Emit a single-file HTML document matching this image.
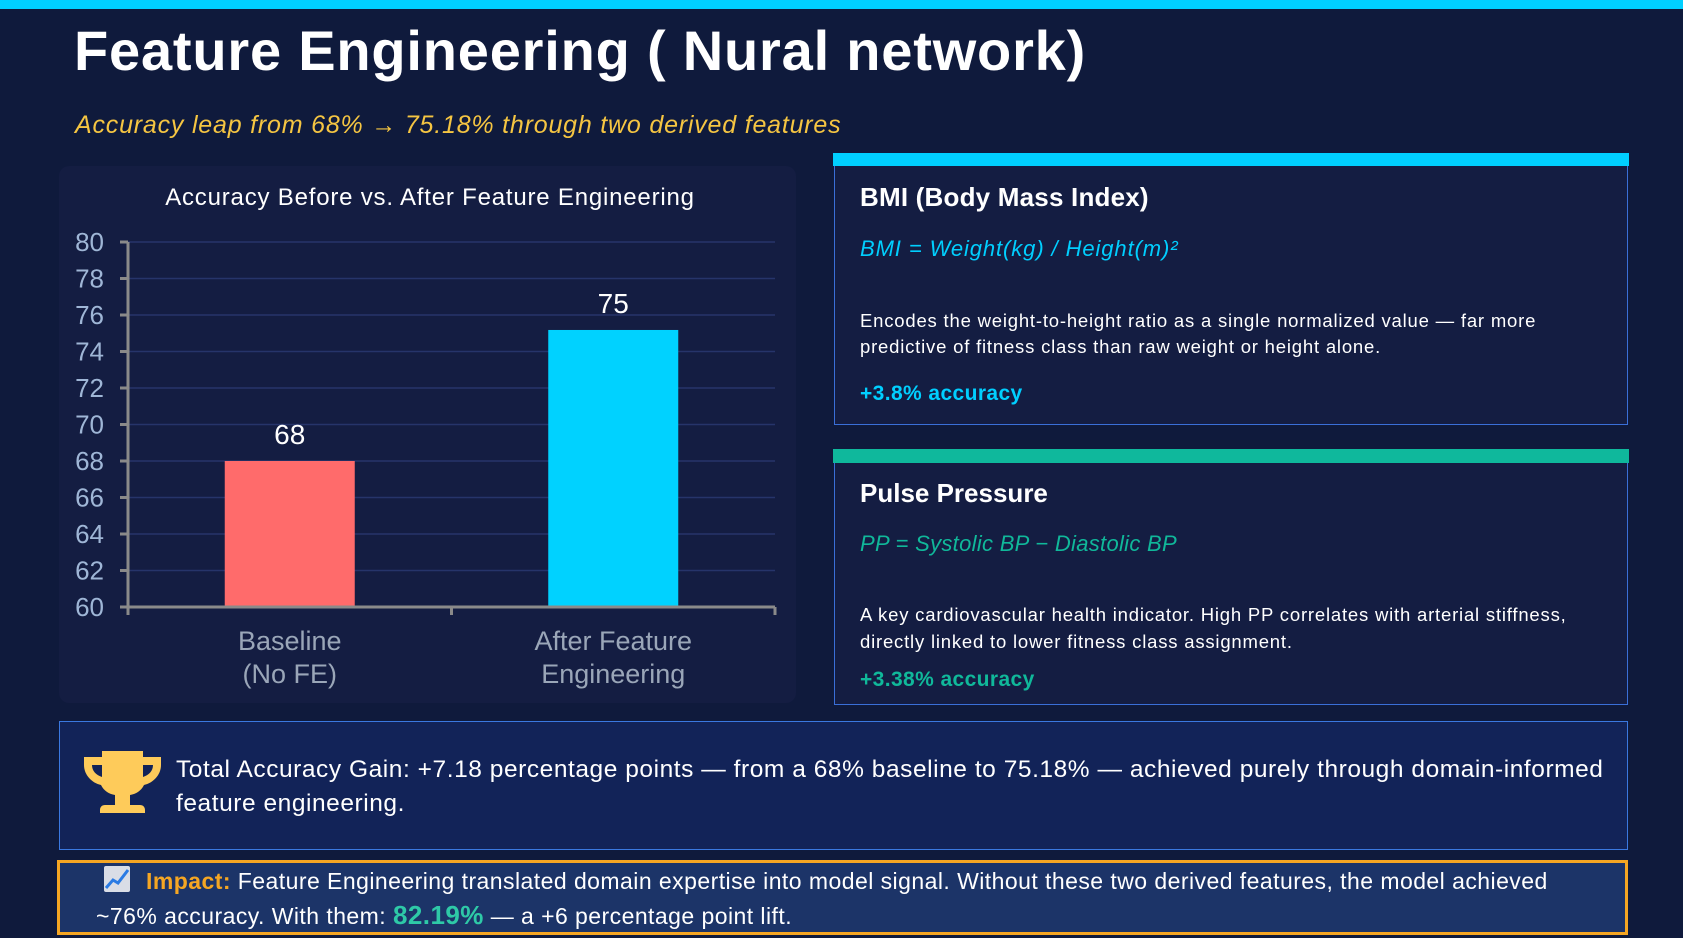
<!DOCTYPE html>
<html><head><meta charset="utf-8"><style>
*{margin:0;padding:0;box-sizing:border-box}
body{width:1683px;height:938px;background:#0f1a3c;font-family:"Liberation Sans",sans-serif;position:relative;overflow:hidden;color:#fff}
.abs{position:absolute;white-space:nowrap}
.cal{font-family:"Liberation Sans",sans-serif}
</style></head><body>
<div class="abs" style="left:0;top:0;width:1683px;height:9px;background:#00cfff"></div>
<div class="abs" style="left:74px;top:18px;font-size:56px;font-weight:bold;letter-spacing:0.8px">Feature Engineering ( Nural network)</div>
<div class="abs" style="left:75px;top:111px;font-size:25px;font-style:italic;color:#f5c542;letter-spacing:0.8px">Accuracy leap from 68% → 75.18% through two derived features</div>

<div class="abs" style="left:59px;top:166px;width:737px;height:537px;background:#141d42;border-radius:10px"></div>
<svg class="abs" style="left:0;top:0" width="1683" height="938" id="chart"></svg>

<div class="abs" style="left:834px;top:153px;width:794px;height:272px;background:#141d42;border:1px solid #3a6fd8;border-top:none">
 <div style="position:absolute;left:-2px;top:0;width:796px;height:13px;background:#00cfff"></div>
 <div class="abs cal" style="left:25px;top:29px;font-size:26px;font-weight:bold;letter-spacing:0.2px">BMI (Body Mass Index)</div>
 <div class="abs cal" style="left:25px;top:83px;font-size:22px;font-style:italic;color:#00cfff;letter-spacing:0.9px">BMI = Weight(kg) / Height(m)²</div>
 <div class="abs cal" style="left:25px;top:155px;font-size:18.5px;line-height:26px;letter-spacing:0.8px">Encodes the weight-to-height ratio as a single normalized value — far more<br>predictive of fitness class than raw weight or height alone.</div>
 <div class="abs cal" style="left:25px;top:229px;font-size:21px;font-weight:bold;color:#00cfff;letter-spacing:0.4px">+3.8% accuracy</div>
</div>

<div class="abs" style="left:834px;top:449px;width:794px;height:256px;background:#141d42;border:1px solid #3a6fd8;border-top:none">
 <div style="position:absolute;left:-2px;top:0;width:796px;height:14px;background:#0fb89c"></div>
 <div class="abs cal" style="left:25px;top:29px;font-size:26px;font-weight:bold">Pulse Pressure</div>
 <div class="abs cal" style="left:25px;top:82px;font-size:22px;font-style:italic;color:#10b89a;letter-spacing:0.3px">PP = Systolic BP − Diastolic BP</div>
 <div class="abs cal" style="left:25px;top:152px;font-size:18.5px;line-height:27px;letter-spacing:0.8px">A key cardiovascular health indicator. High PP correlates with arterial stiffness,<br>directly linked to lower fitness class assignment.</div>
 <div class="abs cal" style="left:25px;top:219px;font-size:21px;font-weight:bold;color:#10b89a;letter-spacing:0.4px">+3.38% accuracy</div>
</div>

<div class="abs" style="left:59px;top:721px;width:1569px;height:129px;background:#122358;border:1px solid #3a78e0">
 <svg class="abs" style="left:24px;top:29px" width="77" height="68" viewBox="0 0 77 68">
  <path d="M18 0h41v6h18v8c0 10-8 18-17 20c-3 6-8 9-14 10v10h10c3 0 5 2 5 5v3H16v-3c0-3 2-5 5-5h10V44c-6-1-11-4-14-10C8 32 0 24 0 14V6h18z M8 14c0 6 4 10 10 12V14z M69 14H59v12c6-2 10-6 10-12z" fill="#fecb5a"/>
 </svg>
 <div class="abs cal" style="left:116px;top:31px;font-size:24.5px;line-height:34px;letter-spacing:0.55px">Total Accuracy Gain: +7.18 percentage points — from a 68% baseline to 75.18% — achieved purely through domain-informed<br>feature engineering.</div>
</div>

<div class="abs" style="left:57px;top:860px;width:1571px;height:75px;background:#1c3468;border:3px solid #f5a623">
 <div class="abs" style="left:44px;top:3px;width:26px;height:26px;background:#d9dde6;border-radius:2px;overflow:hidden"><svg width="26" height="26"><polyline points="2,22 9,14 14,17 24,4" fill="none" stroke="#2a7be4" stroke-width="3"/></svg></div>
 <div class="abs cal" style="left:36px;top:1px;font-size:23px;line-height:34px;letter-spacing:0.45px"><span style="display:inline-block;width:50px"></span><b style="color:#f5a623">Impact:</b> Feature Engineering translated domain expertise into model signal. Without these two derived features, the model achieved<br>~76% accuracy. With them: <b style="color:#2ec9a7;font-size:26px">82.19%</b> — a +6 percentage point lift.</div>
</div>

<script>
const categories=["Baseline|(No FE)","After Feature|Engineering"];
const values=[68,75.18];
const labels=["68","75"];
const yTicks=[60,62,64,66,68,70,72,74,76,78,80];
const colors=["#ff6b6b","#00d2ff"];
const svg=document.getElementById('chart');
const NS='http://www.w3.org/2000/svg';
const x0=128,x1=775,yTop=242,yBot=607,yMin=60,yMax=80;
const y=v=>yBot-(v-yMin)/(yMax-yMin)*(yBot-yTop);
const bw=(x1-x0)/categories.length;
function mk(t,a,txt){const e=document.createElementNS(NS,t);for(const k in a)e.setAttribute(k,a[k]);if(txt!==undefined)e.textContent=txt;svg.appendChild(e);return e;}
let t=mk('text',{x:430,y:205,'text-anchor':'middle','font-size':24,fill:'#fff','letter-spacing':'0.8'},'Accuracy Before vs. After Feature Engineering');


yTicks.forEach(v=>{
 const g=mk('line',{x1:x0,x2:x1,y1:y(v),y2:y(v),stroke:'#26346a','stroke-width':1.5});
 
 
 const tk=mk('line',{x1:x0-8,x2:x0,y1:y(v),y2:y(v),stroke:'#8a8a8a','stroke-width':3});
 
 
 const l=mk('text',{x:104,y:y(v)+9,'text-anchor':'end','font-size':26,fill:'#9fb6d6'},String(v));
 
 
});
values.forEach((v,i)=>{
 const cx=x0+bw*(i+0.5);
 const r=mk('rect',{x:cx-65,y:y(v),width:130,height:yBot-y(v),fill:colors[i]});
 
 
 const vl=mk('text',{x:cx,y:y(v)-17,'text-anchor':'middle','font-size':28,fill:'#fff'},labels[i]);
 
 
 categories[i].split('|').forEach((s,j)=>{
  const c=mk('text',{x:cx,y:650+j*33,'text-anchor':'middle','font-size':27,fill:'#9aa6b8'},s);
  
  
 });
});
const ax=mk('line',{x1:x0,x2:x0,y1:yTop,y2:yBot+8,stroke:'#8a8a8a','stroke-width':3});


const bx=mk('line',{x1:x0,x2:x1,y1:yBot,y2:yBot,stroke:'#8a8a8a','stroke-width':3});


for(let i=0;i<=categories.length;i++){
 const xt=mk('line',{x1:x0+bw*i,x2:x0+bw*i,y1:yBot,y2:yBot+8,stroke:'#8a8a8a','stroke-width':3});
 
 
}
</script>
</body></html>
